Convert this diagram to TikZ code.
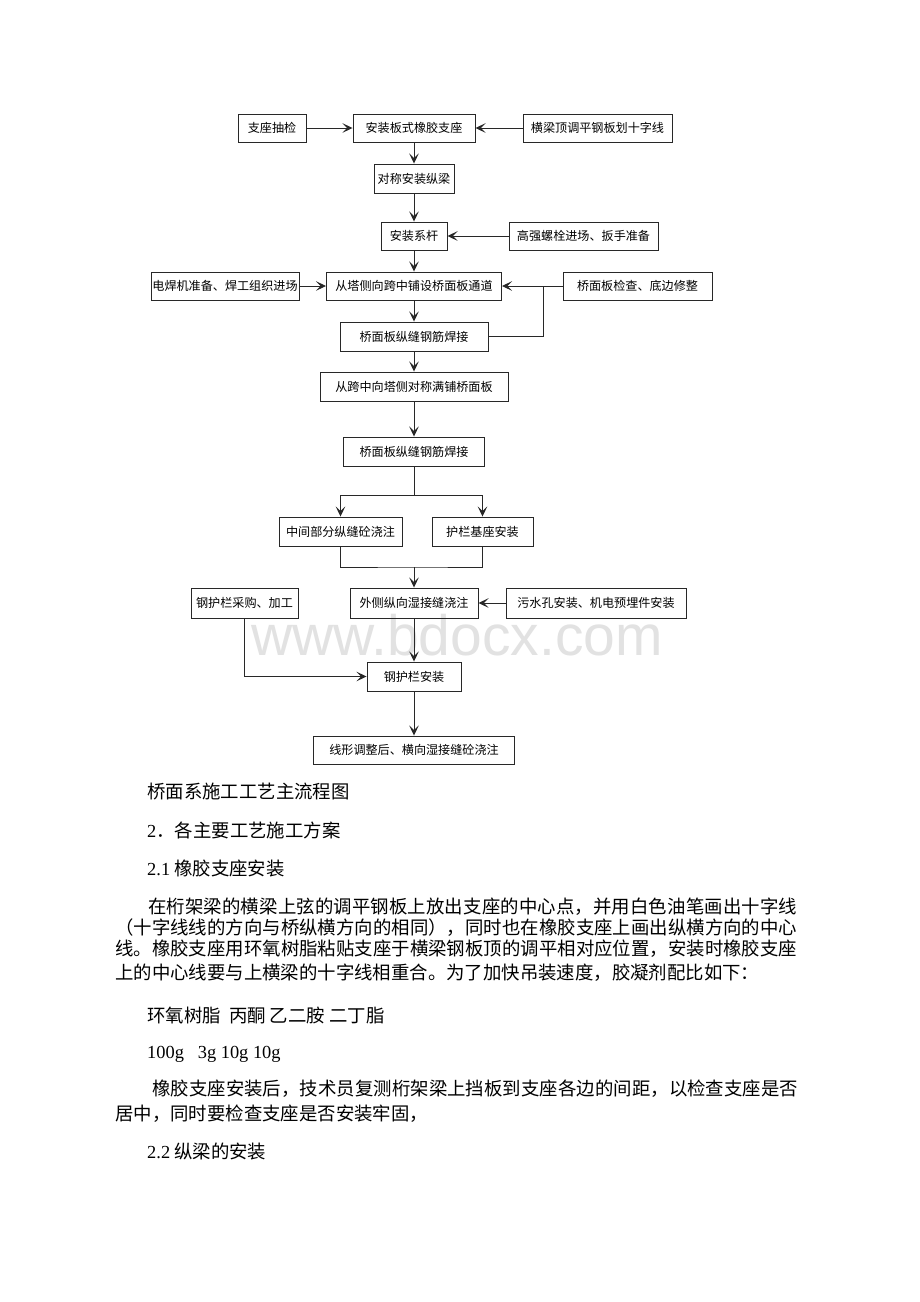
\documentclass[tikz,border=0pt]{standalone}
\usepackage{fontspec}
\usetikzlibrary{arrows.meta}
\newfontfamily\cjk{Noto Sans CJK SC}
\newfontfamily\lat{Liberation Serif}
\newfontfamily\wmf{Liberation Sans}
\definecolor{wmgray}{RGB}{226,226,226}
\definecolor{linecol}{RGB}{40,40,40}
\makeatletter
\newcommand\jline[2]{\hbox to #1{\@tfor\jc:=#2\do{\jc\hfil}\unskip}}
\makeatother
\newcommand\boxfont{\cjk\fontsize{12.1}{13}\selectfont}
\newcommand\bodyfont{\cjk\fontsize{18.4}{20}\selectfont}
\newcommand\latbody{\lat\fontsize{18.4}{20}\selectfont}
\tikzset{
  fbox/.style={draw=linecol, line width=0.95pt, inner sep=0pt, font=\boxfont, align=center},
  conn/.style={line width=0.95pt, draw=linecol},
  arr/.style={conn, -{Stealth[length=10pt, width=9.5pt, inset=4.5pt]}},
  body/.style={anchor=west, inner sep=0pt, font=\bodyfont}
}
\begin{document}
\begin{tikzpicture}[x=1pt, y=-1pt]
\useasboundingbox (0,0) rectangle (920,1302);
\fill[white] (0,0) rectangle (920,1302);
% watermark
\node[anchor=base, inner sep=0pt, font=\wmf\fontsize{57}{57}\selectfont, text=wmgray] (wm) at (457,655) {www.bdocx.com};
% boxes
\node[fbox, minimum width=68pt, minimum height=28pt] (zcjc) at (272,128) {支座抽检};
\node[fbox, minimum width=122pt, minimum height=28pt] (azbs) at (414,128) {安装板式橡胶支座};
\node[fbox, minimum width=149pt, minimum height=28pt] (hlding) at (597.5,128) {横梁顶调平钢板划十字线};
\node[fbox, minimum width=80pt, minimum height=29pt] (dcaz) at (414,178.5) {对称安装纵梁};
\node[fbox, minimum width=66pt, minimum height=28pt] (azxg) at (414,236) {安装系杆};
\node[fbox, minimum width=149pt, minimum height=28pt] (gqls) at (583.5,236) {高强螺栓进场、扳手准备};
\node[fbox, minimum width=148pt, minimum height=28pt] (dhj) at (225,286) {电焊机准备、焊工组织进场};
\node[fbox, minimum width=175pt, minimum height=28pt] (cts) at (414,286) {从塔侧向跨中铺设桥面板通道};
\node[fbox, minimum width=149pt, minimum height=28pt] (jc) at (637.5,286) {桥面板检查、底边修整};
\node[fbox, minimum width=148pt, minimum height=29pt] (hja) at (414,336.5) {桥面板纵缝钢筋焊接};
\node[fbox, minimum width=188pt, minimum height=29pt] (ckz) at (414,386.5) {从跨中向塔侧对称满铺桥面板};
\node[fbox, minimum width=141pt, minimum height=29pt] (hjb) at (414,451.5) {桥面板纵缝钢筋焊接};
\node[fbox, minimum width=123pt, minimum height=29pt] (zj) at (340.5,531.5) {中间部分纵缝砼浇注};
\node[fbox, minimum width=101pt, minimum height=29pt] (hl) at (482.5,531.5) {护栏基座安装};
\node[fbox, minimum width=107pt, minimum height=30pt] (gcg) at (244.5,603) {钢护栏采购、加工};
\node[fbox, minimum width=128pt, minimum height=30pt] (wc) at (414,603) {外侧纵向湿接缝浇注};
\node[fbox, minimum width=180pt, minimum height=30pt] (wsk) at (596,603) {污水孔安装、机电预埋件安装};
\node[fbox, minimum width=94pt, minimum height=29pt] (ghl) at (414,676.5) {钢护栏安装};
\node[fbox, minimum width=201pt, minimum height=28pt] (xx) at (414,750) {线形调整后、横向湿接缝砼浇注};
% connectors
\draw[arr] (zcjc) -- (azbs);
\draw[arr] (hlding) -- (azbs);
\draw[arr] (azbs) -- (dcaz);
\draw[arr] (dcaz) -- (azxg);
\draw[arr] (gqls) -- (azxg);
\draw[arr] (azxg) -- (cts);
\draw[arr] (dhj) -- (cts);
\draw[arr] (jc) -- (cts);
\coordinate (ja) at (543,286);
\draw[conn] (hja.east) -| (ja);
\draw[arr] (cts) -- (hja);
\draw[arr] (hja) -- (ckz);
\draw[arr] (ckz) -- (hjb);
\coordinate (sa) at (414,495);
\draw[conn] (hjb) -- (sa);
\draw[arr] (sa) -| (zj.north);
\draw[arr] (sa) -| (hl.north);
\coordinate (ma) at (414,567);
\draw[conn] (zj.south) |- (ma) -| (hl.south);
\draw[arr] (ma) -- (wc);
\draw[arr] (wsk) -- (wc);
\draw[arr] (wc) -- (ghl);
\draw[arr] (gcg.south) |- (ghl.west);
\draw[arr] (ghl) -- (xx);
% text
\node[body] (t1) at (147,792) {桥面系施工工艺主流程图};
\node[body] (t2) at (147,830) {{\latbody 2}．各主要工艺施工方案};
\node[body] (t3) at (147,868) {{\latbody 2.1} 橡胶支座安装};
\node[body] (p1) at (148,907) {\jline{649pt}{在桁架梁的横梁上弦的调平钢板上放出支座的中心点，并用白色油笔画出十字线}};
\node[body] (p2) at (115,928) {\jline{682pt}{（十字线线的方向与桥纵横方向的相同），同时也在橡胶支座上画出纵横方向的中心}};
\node[body] (p3) at (115,949) {\jline{682pt}{线。橡胶支座用环氧树脂粘贴支座于横梁钢板顶的调平相对应位置，安装时橡胶支座}};
\node[body] (p4) at (115,973) {上的中心线要与上横梁的十字线相重合。为了加快吊装速度，胶凝剂配比如下：};
\node[body] (t4) at (147,1016) {环氧树脂\ \ 丙酮 乙二胺 二丁脂};
\node[body, font=\latbody] (t5) at (147,1054) {100g\ \ \ 3g 10g 10g};
\node[body] (q1) at (152,1089) {\jline{646pt}{橡胶支座安装后，技术员复测桁架梁上挡板到支座各边的间距，以检查支座是否}};
\node[body] (q2) at (115,1114) {居中，同时要检查支座是否安装牢固，};
\node[body] (t6) at (147,1152) {{\latbody 2.2} 纵梁的安装};
\end{tikzpicture}
\end{document}
